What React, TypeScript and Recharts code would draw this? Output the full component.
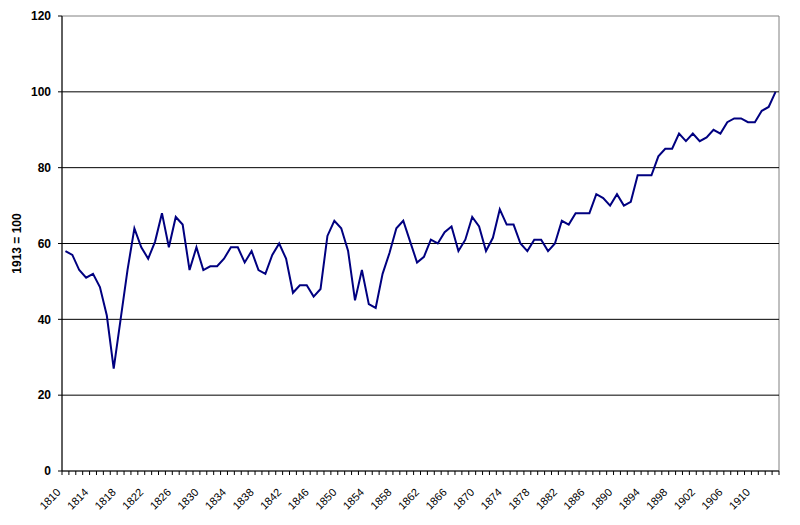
import React from 'react';
import {
  LineChart,
  Line,
  XAxis,
  YAxis,
  ReferenceLine,
  ReferenceArea,
} from 'recharts';

// Years on the category axis, 1810 to 1913
const years = [
  1810, 1811, 1812, 1813, 1814, 1815, 1816, 1817, 1818, 1819,
  1820, 1821, 1822, 1823, 1824, 1825, 1826, 1827, 1828, 1829,
  1830, 1831, 1832, 1833, 1834, 1835, 1836, 1837, 1838, 1839,
  1840, 1841, 1842, 1843, 1844, 1845, 1846, 1847, 1848, 1849,
  1850, 1851, 1852, 1853, 1854, 1855, 1856, 1857, 1858, 1859,
  1860, 1861, 1862, 1863, 1864, 1865, 1866, 1867, 1868, 1869,
  1870, 1871, 1872, 1873, 1874, 1875, 1876, 1877, 1878, 1879,
  1880, 1881, 1882, 1883, 1884, 1885, 1886, 1887, 1888, 1889,
  1890, 1891, 1892, 1893, 1894, 1895, 1896, 1897, 1898, 1899,
  1900, 1901, 1902, 1903, 1904, 1905, 1906, 1907, 1908, 1909,
  1910, 1911, 1912, 1913,
];

// Index, 1913 = 100
const indexValues = [
  58, 57, 53, 51, 52, 48.5, 41, 27, 40, 53,
  64, 59, 56, 60.5, 68, 59, 67, 65, 53, 59,
  53, 54, 54, 56, 59, 59, 55, 58, 53, 52,
  57, 60, 56, 47, 49, 49, 46, 48, 62, 66,
  64, 58, 45, 53, 44, 43, 52, 57.5, 64, 66,
  60.5, 55, 56.5, 61, 60, 63, 64.5, 58, 61, 67,
  64.5, 58, 61.5, 69, 65, 65, 60, 58, 61, 61,
  58, 60, 66, 65, 68, 68, 68, 73, 72, 70,
  73, 70, 71, 78, 78, 78, 83, 85, 85, 89,
  87, 89, 87, 88, 90, 89, 92, 93, 93, 92,
  92, 95, 96, 100,
];

const labelYears = [
  1810, 1814, 1818, 1822, 1826, 1830, 1834, 1838, 1842, 1846, 1850,
  1854, 1858, 1862, 1866, 1870, 1874, 1878, 1882, 1886, 1890, 1894,
  1898, 1902, 1906, 1910,
];

const yTicks = [0, 20, 40, 60, 80, 100, 120];
const gridValues = [20, 40, 60, 80, 100];

const data = years.map((year, i) => ({ year, value: indexValues[i] }));

const FONT = '"Liberation Sans", Arial, sans-serif';

// Tick marks sit on the category boundaries, labels every 4th year
const XTick = (props: any) => {
  const { x, y, payload, index } = props;
  const off = payload.offset ?? 3.45;
  const showLabel = labelYears.includes(Number(payload.value));
  const isLast = index === years.length - 1;
  const lx = x - 4;
  const ly = y + 22;
  const rot = `translate(${lx}px, ${ly}px) rotate(-45deg)`;
  return (
    <g>
      <line x1={x - off} y1={y} x2={x - off} y2={y + 4} stroke="#000" />
      {isLast && <line x1={x + off} y1={y} x2={x + off} y2={y + 4} stroke="#000" />}
      {showLabel && (
        <text
          x={0}
          y={0}
          textAnchor="end"
          style={{ transform: rot, transformOrigin: '0px 0px', transformBox: 'view-box' }}
          fontSize={11}
          fontFamily={FONT}
          fill="#000"
        >
          {payload.value}
        </text>
      )}
    </g>
  );
};

export default function App() {
  return (
    <div style={{ position: 'absolute', left: 0, top: 0, background: '#fff' }}>
      <LineChart
        width={800}
        height={525}
        data={data}
        margin={{ top: 16, right: 21, bottom: 0, left: 0 }}
      >
        <ReferenceArea y1={0} y2={120} fill="none" stroke="#808080" ifOverflow="visible" />
        {gridValues.map((v) => (
          <ReferenceLine key={v} y={v} stroke="#000" />
        ))}
        <XAxis
          dataKey="year"
          scale="band"
          interval={0}
          height={54}
          tickLine={false}
          tickSize={0}
          tickMargin={0}
          axisLine={{ stroke: '#000' }}
          tick={<XTick />}
        />
        <YAxis
          domain={[0, 120]}
          ticks={yTicks}
          width={62}
          tickSize={4}
          tickMargin={7}
          axisLine={{ stroke: '#000' }}
          tickLine={{ stroke: '#000' }}
          tick={{ fontSize: 12, fontWeight: 'bold', fill: '#000', fontFamily: FONT }}
          label={{
            content: ({ viewBox }: any) => {
              const cx = viewBox.x + 17;
              const cy = viewBox.y + viewBox.height / 2;
              return (
                <text
                  x={cx}
                  y={cy}
                  textAnchor="middle"
                  dominantBaseline="central"
                  transform={`rotate(-90 ${cx} ${cy})`}
                  fontSize={12}
                  fontWeight="bold"
                  fontFamily={FONT}
                  fill="#000"
                >
                  1913 = 100
                </text>
              );
            },
          }}
        />
        <Line
          type="linear"
          dataKey="value"
          stroke="#000080"
          strokeWidth={2}
          dot={false}
          isAnimationActive={false}
        />
      </LineChart>
    </div>
  );
}
